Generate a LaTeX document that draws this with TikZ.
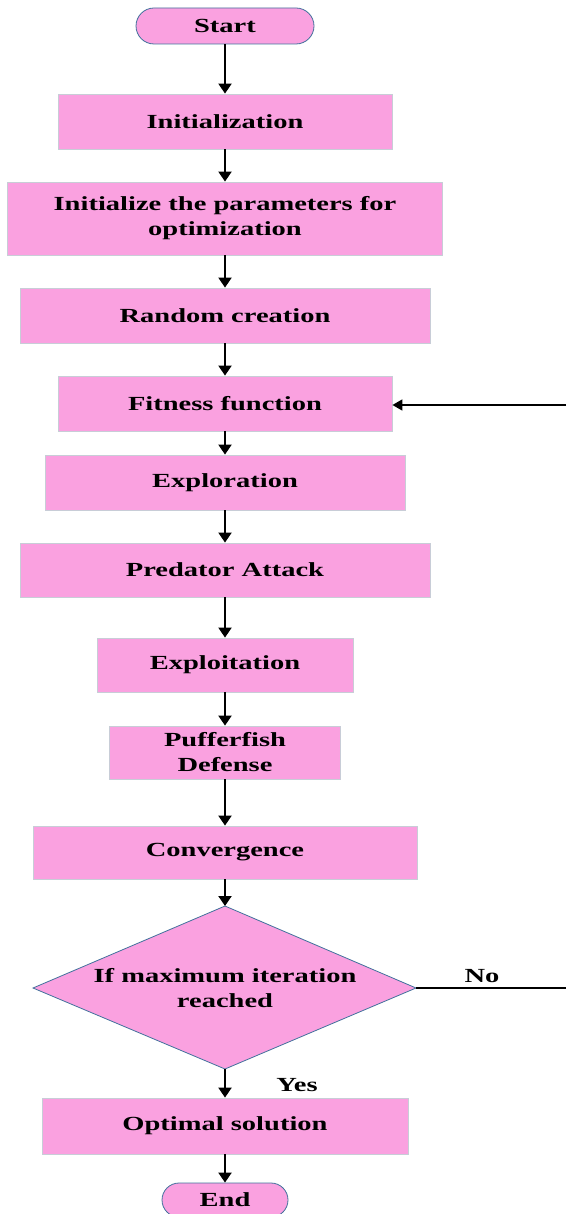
\documentclass[tikz,border=0pt]{standalone}
\usepackage{fontspec}
\setmainfont{Liberation Serif}[FakeStretch=1.425]
\usetikzlibrary{arrows.meta,shapes.misc}
\definecolor{pinkfill}{RGB}{250,161,224}
\definecolor{edgeblue}{RGB}{65,113,156}
\definecolor{boxedge}{RGB}{200,205,215}
\begin{document}
\begin{tikzpicture}[x=1pt,y=-1pt,
  font=\fontsize{20}{25}\selectfont\bfseries,
  box/.style={rectangle,fill=pinkfill,draw=boxedge,line width=0.8pt,inner sep=0pt,align=center},
  term/.style={rounded rectangle,fill=pinkfill,draw=edgeblue,line width=0.8pt,inner sep=0pt},
  decis/.style={fill=pinkfill,draw=edgeblue,line width=0.8pt},
  arr/.style={line width=2pt,-{Triangle[width=13pt,length=10pt]}},
  plain/.style={line width=1.6pt},
  lbl/.style={inner sep=0pt}]
\useasboundingbox (0,0) rectangle (566,1214);
\node[term,minimum width=178,minimum height=36] (start) at (225,26) {Start};
\node[box,minimum width=334,minimum height=55] (init) at (225,121.5) {Initialization};
\node[box,minimum width=435,minimum height=73] (param) at (225,218.5) {Initialize the parameters for\\optimization};
\node[box,minimum width=410,minimum height=55] (rand) at (225,315.5) {Random creation};
\node[box,minimum width=334,minimum height=55] (fit) at (225,403.5) {Fitness function};
\node[box,minimum width=360,minimum height=55] (expl) at (225,482.5) {Exploration};
\node[box,minimum width=410,minimum height=54] (pred) at (225,570) {Predator Attack};
\node[box,minimum width=256,minimum height=54] (exploit) at (225,665) {Exploitation};
\node[box,minimum width=231,minimum height=53] (puff) at (225,752.5) {Pufferfish\\Defense};
\node[box,minimum width=384,minimum height=53] (conv) at (225,852.5) {Convergence};
\coordinate (dtop) at (225,906);
\coordinate (dleft) at (33,988);
\coordinate (dright) at (416,988);
\coordinate (dbot) at (225,1069);
\draw[decis] (dtop) -- (dright) -- (dbot) -- (dleft) -- cycle;
\node[inner sep=0pt,align=center] (dec) at (225,988) {If maximum iteration\\reached};
\node[box,minimum width=366,minimum height=56] (opt) at (225,1126) {Optimal solution};
\node[term,minimum width=126,minimum height=34] (end) at (225,1200) {End};
\coordinate (noend) at (566,988);
\coordinate (fitend) at (566,405);
\node[lbl] (no) at (482,976) {No};
\node[lbl] (yes) at (297,1085) {Yes};
\draw[arr] (start.south) -- (init.north);
\draw[arr] (init.south) -- (param.north);
\draw[arr] (param.south) -- (rand.north);
\draw[arr] (rand.south) -- (fit.north);
\draw[arr] (fit.south) -- (expl.north);
\draw[arr] (expl.south) -- (pred.north);
\draw[arr] (pred.south) -- (exploit.north);
\draw[arr] (exploit.south) -- (puff.north);
\draw[arr] (puff.south) -- (conv.north);
\draw[arr] (conv.south) -- (dtop);
\draw[arr] (dbot) -- (opt.north);
\draw[arr] (opt.south) -- (end.north);
\draw[plain] (dright) -- (noend);
\draw[plain,-{Triangle[width=11pt,length=10pt]}] (fitend) -- (fit.east |- fitend);
\end{tikzpicture}
\end{document}
